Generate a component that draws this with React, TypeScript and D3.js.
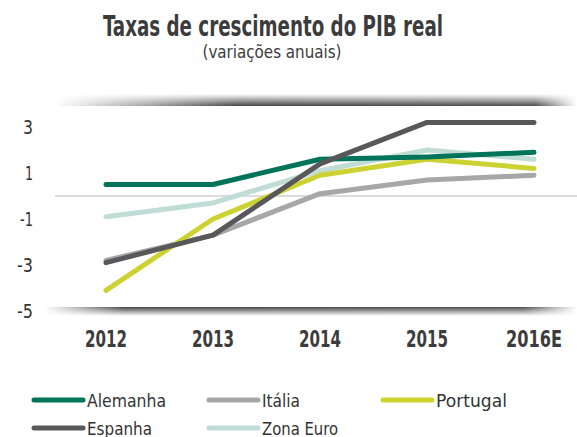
import React from "react";
import * as d3 from "d3";

const years = ["2012", "2013", "2014", "2015", "2016E"];
const alemanha = [0.5, 0.5, 1.6, 1.7, 1.9];
const italia = [-2.8, -1.7, 0.1, 0.7, 0.9];
const portugal = [-4.1, -1.0, 0.9, 1.6, 1.2];
const espanha = [-2.9, -1.7, 1.4, 3.2, 3.2];
const zonaEuro = [-0.9, -0.3, 1.1, 2.0, 1.6];
const yTicks = [3, 1, -1, -3, -5];

const seriesNames = ["Alemanha", "Itália", "Portugal", "Espanha", "Zona Euro"];
const seriesColors = ["#00735b", "#a7a7a7", "#cdd233", "#58585a", "#bfdcd5"];
const seriesValues = [alemanha, italia, portugal, espanha, zonaEuro];
const drawOrder = [4, 1, 2, 0, 3];

const FONT = "'DejaVu Sans Condensed', 'DejaVu Sans', sans-serif";

export default function App() {
  const W = 577, H = 437;
  const x = d3.scalePoint<string>().domain(years).range([106, 534]);
  const y = d3.scaleLinear().domain([-5, 3]).range([311, 127]);
  const line = d3
    .line<number>()
    .x((_, i) => x(years[i]) as number)
    .y((d) => y(d));

  const legendPos = [
    { x: 34, y: 400 },
    { x: 209, y: 400 },
    { x: 383, y: 400 },
    { x: 34, y: 428 },
    { x: 209, y: 428 },
  ];
  const legendWidths = [79, 38, 71, 65, 76];
  const xLabelWidths = [42, 42, 42, 42, 56];
  const yLabelWidths: Record<string, number> = { "3": 10, "1": 8, "-1": 13, "-3": 16, "-5": 16 };

  return (
    <svg
      width={W}
      height={H}
      style={{ position: "absolute", left: 0, top: 0, display: "block", background: "#fff" }}
      fontFamily={FONT}
    >
      <defs>
        <linearGradient id="topV" x1="0" y1="0" x2="0" y2="1">
          <stop offset="0" stopColor="#444" stopOpacity="0" />
          <stop offset="1" stopColor="#3a3a3a" stopOpacity="1" />
        </linearGradient>
        <linearGradient id="botV" x1="0" y1="0" x2="0" y2="1">
          <stop offset="0" stopColor="#3a3a3a" stopOpacity="1" />
          <stop offset="1" stopColor="#444" stopOpacity="0" />
        </linearGradient>
        <linearGradient id="topH" x1="0" y1="0" x2="1" y2="0">
          <stop offset="0" stopColor="#fff" stopOpacity="0" />
          <stop offset="0.35" stopColor="#fff" stopOpacity="0.95" />
          <stop offset="0.92" stopColor="#fff" stopOpacity="0.9" />
          <stop offset="1" stopColor="#fff" stopOpacity="0" />
        </linearGradient>
        <linearGradient id="botH" x1="0" y1="0" x2="1" y2="0">
          <stop offset="0" stopColor="#fff" stopOpacity="0" />
          <stop offset="0.15" stopColor="#fff" stopOpacity="0.95" />
          <stop offset="0.9" stopColor="#fff" stopOpacity="0.9" />
          <stop offset="1" stopColor="#fff" stopOpacity="0" />
        </linearGradient>
        <mask id="topMask" maskUnits="userSpaceOnUse" x="0" y="0" width={W} height={H}>
          <rect x={55} y={94} width={522} height={14} fill="url(#topH)" />
        </mask>
        <mask id="botMask" maskUnits="userSpaceOnUse" x="0" y="0" width={W} height={H}>
          <rect x={45} y={306} width={532} height={12} fill="url(#botH)" />
        </mask>
      </defs>

      {/* title */}
      <text x={273} y={36} textAnchor="middle" fontSize={28} fontWeight="bold" fill="#3c3c3c"
        textLength={340} lengthAdjust="spacingAndGlyphs">
        Taxas de crescimento do PIB real
      </text>
      <text x={272} y={58} textAnchor="middle" fontSize={18} fill="#3c3c3c"
        textLength={139} lengthAdjust="spacingAndGlyphs">
        (variações anuais)
      </text>

      {/* shadows */}
      <rect x={55} y={94} width={522} height={12} fill="url(#topV)" mask="url(#topMask)" />
      <rect x={45} y={307} width={532} height={9} fill="url(#botV)" mask="url(#botMask)" />

      {/* zero line */}
      <line x1={55} x2={577} y1={y(0)} y2={y(0)} stroke="#d0d0d0" strokeWidth={1.5} />

      {/* y ticks */}
      {yTicks.map((t) => (
        <text key={t} x={33} y={y(t)} dy="0.36em" textAnchor="end" fontSize={19} fill="#333"
          textLength={yLabelWidths[String(t)]} lengthAdjust="spacingAndGlyphs">
          {t}
        </text>
      ))}

      {/* x ticks */}
      {years.map((yr, i) => (
        <text key={yr} x={x(yr)} y={347} textAnchor="middle" fontSize={23} fontWeight="bold" fill="#3c3c3c"
          textLength={xLabelWidths[i]} lengthAdjust="spacingAndGlyphs">
          {yr}
        </text>
      ))}

      {/* lines */}
      {drawOrder.map((i) => (
        <path
          key={seriesNames[i]}
          d={line(seriesValues[i]) as string}
          fill="none"
          stroke={seriesColors[i]}
          strokeWidth={5}
          strokeLinecap="round"
          strokeLinejoin="round"
        />
      ))}

      {/* legend */}
      {seriesNames.map((name, i) => (
        <g key={name} transform={`translate(${legendPos[i].x},${legendPos[i].y})`}>
          <line x1={0} x2={49} y1={0} y2={0} stroke={seriesColors[i]} strokeWidth={5} strokeLinecap="round" />
          <text x={53} y={0} dy="0.37em" fontSize={18} fill="#333"
            textLength={legendWidths[i]} lengthAdjust="spacingAndGlyphs">
            {name}
          </text>
        </g>
      ))}
    </svg>
  );
}
